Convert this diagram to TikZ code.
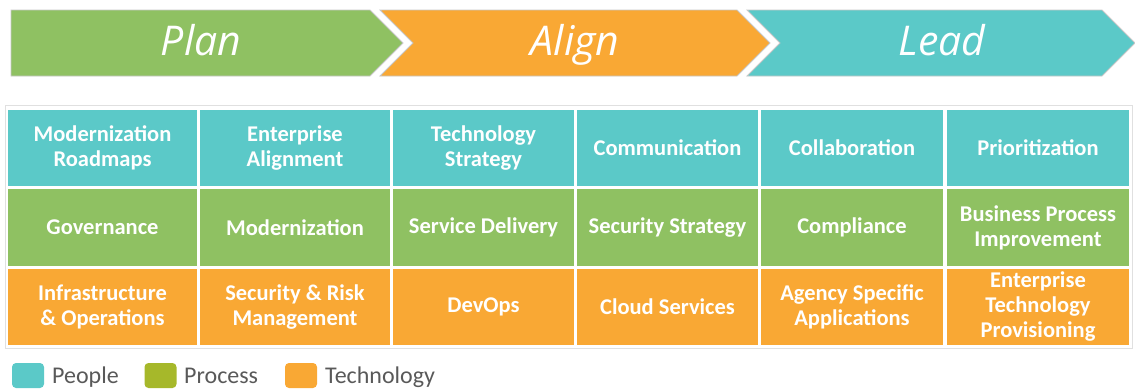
\documentclass[tikz,border=0pt]{standalone}
\usepackage{fontspec}
\setmainfont{Carlito}
\newfontfamily\phasefont{Open Sans}
\usepackage{tikz}
\definecolor{peopleteal}{HTML}{5BC9C8}
\definecolor{processgreen}{HTML}{8FC162}
\definecolor{techorange}{HTML}{F9A834}
\definecolor{legendolive}{HTML}{A6B82A}
\definecolor{legendgray}{HTML}{595959}
\tikzset{
    phase/.style={draw=black!22, line width=0.8pt},
    phase_text/.style={text=white, anchor=base, inner sep=0pt, font=\phasefont\itshape\fontsize{41}{41}\selectfont},
    cell/.style={rectangle, inner sep=0pt, text=white, align=center, font=\bfseries\fontsize{22.5}{25}\selectfont},
    cell_teal/.style={cell, fill=peopleteal},
    cell_green/.style={cell, fill=processgreen},
    cell_orange/.style={cell, fill=techorange},
    key/.style={rectangle, rounded corners=4pt, minimum width=32pt, minimum height=25pt, inner sep=0pt},
    key_text/.style={text=legendgray, anchor=base west, inner sep=0pt, font=\fontsize{24}{24}\selectfont}
}

\begin{document}
\begin{tikzpicture}[x=1pt, y=-1pt]
            \useasboundingbox (0,0) rectangle (1135,389);

            % Phase chevrons
            \draw [phase, fill=processgreen] (11,10) -- (370,10) -- (403,43) -- (370,76) -- (11,76) -- cycle;
            \draw [phase, fill=techorange] (380,10) -- (737,10) -- (770,43) -- (737,76) -- (380,76) -- (413,43) -- cycle;
            \draw [phase, fill=peopleteal] (747,10) -- (1102,10) -- (1135,43) -- (1102,76) -- (747,76) -- (780,43) -- cycle;
            \node (plan) [phase_text] at (201,55) {Plan};
            \node (align) [phase_text] at (575,55) {Align};
            \node (lead) [phase_text] at (942,55) {Lead};

            % Frame round the grid
            \draw [black!12, line width=1pt] (5,105) rectangle (1132,348);

            % People row
            \node (roadmaps) [cell_teal, minimum width=189pt, minimum height=76pt] at (102.5,148) {Modernization\\Roadmaps};
            \node (entalign) [cell_teal, minimum width=190pt, minimum height=76pt] at (295,148) {Enterprise\\Alignment};
            \node (techstrat) [cell_teal, minimum width=181pt, minimum height=76pt] at (483.5,148) {Technology\\Strategy};
            \node (comms) [cell_teal, minimum width=181pt, minimum height=76pt] at (667.5,148) {Communication};
            \node (collab) [cell_teal, minimum width=182pt, minimum height=76pt] at (852,148) {Collaboration};
            \node (prio) [cell_teal, minimum width=182pt, minimum height=76pt] at (1038,148) {Prioritization};

            % Process row
            \node (gov) [cell_green, minimum width=189pt, minimum height=77pt] at (102.5,227.5) {Governance};
            \node (modern) [cell_green, minimum width=190pt, minimum height=77pt] at (295,227.5) {Modernization};
            \node (delivery) [cell_green, minimum width=181pt, minimum height=77pt] at (483.5,227.5) {Service Delivery};
            \node (secstrat) [cell_green, minimum width=181pt, minimum height=77pt] at (667.5,227.5) {Security Strategy};
            \node (compl) [cell_green, minimum width=182pt, minimum height=77pt] at (852,227.5) {Compliance};
            \node (bpi) [cell_green, minimum width=182pt, minimum height=77pt] at (1038,227.5) {Business Process\\Improvement};

            % Technology row
            \node (infra) [cell_orange, minimum width=189pt, minimum height=76pt] at (102.5,307) {Infrastructure\\\& Operations};
            \node (secrisk) [cell_orange, minimum width=190pt, minimum height=76pt] at (295,307) {Security \& Risk\\Management};
            \node (devops) [cell_orange, minimum width=181pt, minimum height=76pt] at (483.5,307) {DevOps};
            \node (cloud) [cell_orange, minimum width=181pt, minimum height=76pt] at (667.5,307) {Cloud Services};
            \node (agency) [cell_orange, minimum width=182pt, minimum height=76pt] at (852,307) {Agency Specific\\Applications};
            \node (provision) [cell_orange, minimum width=182pt, minimum height=76pt] at (1038,307) {Enterprise\\Technology\\Provisioning};

            % Legend
            \node (people_key) [key, fill=peopleteal] at (28,375.5) {};
            \node (process_key) [key, fill=legendolive] at (160.5,375.5) {};
            \node (tech_key) [key, fill=techorange] at (301,375.5) {};
            \node (people_lbl) [key_text] at (52,383) {People};
            \node (process_lbl) [key_text] at (184,383) {Process};
            \node (tech_lbl) [key_text] at (325,383) {Technology};
		\end{tikzpicture}
\end{document}
